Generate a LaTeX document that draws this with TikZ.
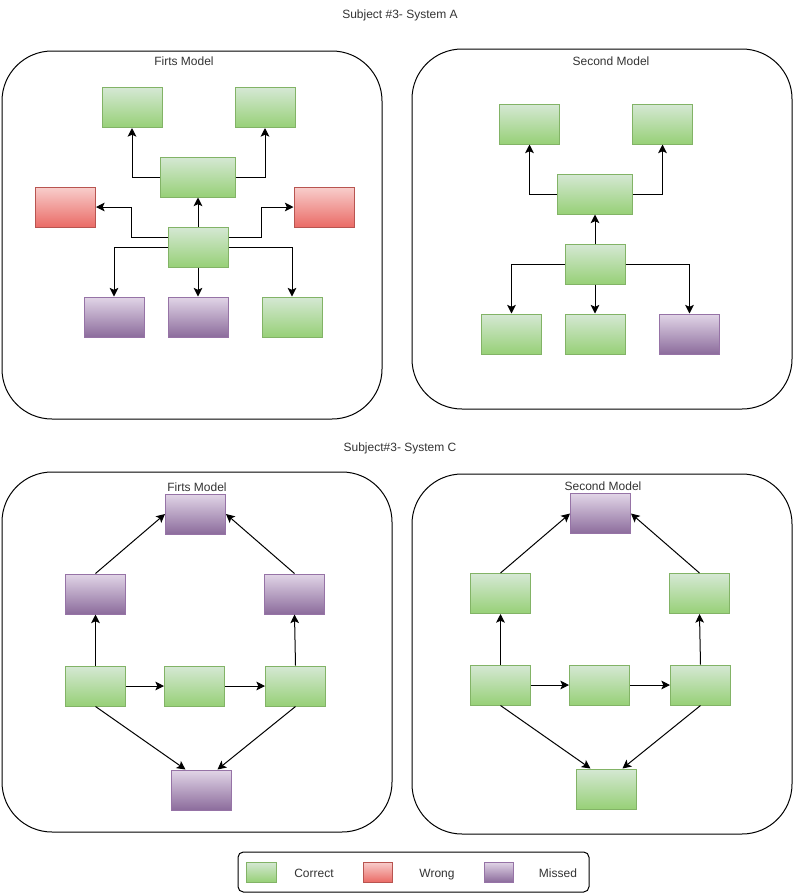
\documentclass[tikz,border=0pt]{standalone}
\usepackage{fontspec}
\setmainfont{Liberation Sans}
\usetikzlibrary{arrows.meta}
\definecolor{gtop}{HTML}{D5E8D4}
\definecolor{gbot}{HTML}{97D077}
\definecolor{gline}{HTML}{82B366}
\definecolor{rtop}{HTML}{F8CECC}
\definecolor{rbot}{HTML}{EA6B66}
\definecolor{rline}{HTML}{B85450}
\definecolor{ptop}{HTML}{E1D5E7}
\definecolor{pbot}{HTML}{8C6C9C}
\definecolor{pline}{HTML}{9673A6}
\definecolor{txtgray}{HTML}{333333}

\begin{document}
\begin{tikzpicture}[x=0.75pt, y=-0.75pt,
		boxnode/.style={line width=0.75pt, minimum width=45pt, minimum height=30pt, inner sep=0pt},
		greennode/.style={boxnode, draw=gline, top color=gtop, bottom color=gbot},
		rednode/.style={boxnode, draw=rline, top color=rtop, bottom color=rbot},
		purplenode/.style={boxnode, draw=pline, top color=ptop, bottom color=pbot},
		widenode/.style={minimum width=56.25pt},
		swatch/.style={minimum width=22pt, minimum height=15pt},
		frame/.style={draw, line width=0.75pt, rounded corners=37.5pt},
		txt/.style={text=txtgray, font=\fontsize{9pt}{11pt}\selectfont, inner sep=0pt, anchor=base},
		conn/.style={-{Stealth[length=6.5pt, width=6.5pt, inset=1.5pt]}, line width=0.75pt}
	]
	\useasboundingbox (0,0) rectangle (793,894);

	\node[txt] (titleA) at (400,18) {Subject \#3- System A};
	\node[txt] (titleC) at (400,451) {Subject\#3- System C};

	\draw[frame] (2,51) rectangle (382,419);
	\node[txt] (nameA1) at (184,65) {Firts Model};

	\node[greennode] (a1top1) at (132,107.5) {};
	\node[greennode] (a1top2) at (265,107.5) {};
	\node[greennode, widenode] (a1mid) at (198,177) {};
	\node[rednode] (a1redl) at (65.5,207) {};
	\node[rednode] (a1redr) at (324,207) {};
	\node[greennode] (a1ctr) at (198,247) {};
	\node[purplenode] (a1bot1) at (114,317) {};
	\node[purplenode] (a1bot2) at (198,317) {};
	\node[greennode] (a1bot3) at (292,317) {};

	\draw[conn] (a1mid.west) -| (a1top1.south);
	\draw[conn] (a1mid.east) -| (a1top2.south);
	\draw[conn] (a1ctr.north) -- (a1mid.south);
	\draw[conn] ([yshift=7.5pt]a1ctr.west) -- ++(-36,0) |- (a1redl.east);
	\draw[conn] ([yshift=7.5pt]a1ctr.east) -- ++(33,0) |- (a1redr.west);
	\draw[conn] (a1ctr.west) -| (a1bot1.north);
	\draw[conn] (a1ctr.south) -- (a1bot2.north);
	\draw[conn] (a1ctr.east) -| (a1bot3.north);

	\draw[frame] (412,49) rectangle (792,409);
	\node[txt] (nameA2) at (611,65) {Second Model};

	\node[greennode] (a2top1) at (529.5,124) {};
	\node[greennode] (a2top2) at (662.5,124) {};
	\node[greennode, widenode] (a2mid) at (595,194) {};
	\node[greennode] (a2ctr) at (595,264) {};
	\node[greennode] (a2bot1) at (511.5,334) {};
	\node[greennode] (a2bot2) at (595,334) {};
	\node[purplenode] (a2bot3) at (689.5,334) {};

	\draw[conn] (a2mid.west) -| (a2top1.south);
	\draw[conn] (a2mid.east) -| (a2top2.south);
	\draw[conn] (a2ctr.north) -- (a2mid.south);
	\draw[conn] (a2ctr.west) -| (a2bot1.north);
	\draw[conn] (a2ctr.south) -- (a2bot2.north);
	\draw[conn] (a2ctr.east) -| (a2bot3.north);

	\draw[frame] (2,472) rectangle (392,832);
	\node[txt] (nameC1) at (197,491) {Firts Model};

	\node[purplenode] (c1top) at (195.5,514) {};
	\node[purplenode] (c1upl) at (95.5,594) {};
	\node[purplenode] (c1upr) at (294.5,594) {};
	\node[greennode] (c1lowl) at (95.5,686) {};
	\node[greennode] (c1lowm) at (194.5,686) {};
	\node[greennode] (c1lowr) at (295.5,686) {};
	\node[purplenode] (c1bot) at (201.5,790) {};

	\draw[conn] (c1upl.north) -- (c1top.west);
	\draw[conn] (c1upr.north) -- (c1top.east);
	\draw[conn] (c1lowl.north) -- (c1upl.south);
	\draw[conn] (c1lowr.north) -- (c1upr.south);
	\draw[conn] (c1lowl.east) -- (c1lowm.west);
	\draw[conn] (c1lowm.east) -- (c1lowr.west);
	\draw[conn] (c1lowl.south) -- ([xshift=-12pt]c1bot.north);
	\draw[conn] (c1lowr.south) -- ([xshift=12pt]c1bot.north);

	\draw[frame] (412,474) rectangle (792,834);
	\node[txt] (nameC2) at (603,490) {Second Model};

	\node[purplenode] (c2top) at (600.5,513.5) {};
	\node[greennode] (c2upl) at (500.5,593.5) {};
	\node[greennode] (c2upr) at (699.5,593.5) {};
	\node[greennode] (c2lowl) at (500.5,685) {};
	\node[greennode] (c2lowm) at (599.5,685) {};
	\node[greennode] (c2lowr) at (700.5,685) {};
	\node[greennode] (c2bot) at (606.5,789) {};

	\draw[conn] (c2upl.north) -- (c2top.west);
	\draw[conn] (c2upr.north) -- (c2top.east);
	\draw[conn] (c2lowl.north) -- (c2upl.south);
	\draw[conn] (c2lowr.north) -- (c2upr.south);
	\draw[conn] (c2lowl.east) -- (c2lowm.west);
	\draw[conn] (c2lowm.east) -- (c2lowr.west);
	\draw[conn] (c2lowl.south) -- ([xshift=-12pt]c2bot.north);
	\draw[conn] (c2lowr.south) -- ([xshift=12pt]c2bot.north);

	\draw[line width=0.75pt, rounded corners=4pt] (238,852) rectangle (589,892);
	\node[greennode, swatch] (keyok) at (261.5,872) {};
	\node[txt] (keyoktxt) at (314,877) {Correct};
	\node[rednode, swatch] (keywrong) at (378,872) {};
	\node[txt] (keywrongtxt) at (437,877) {Wrong};
	\node[purplenode, swatch] (keymiss) at (499,872) {};
	\node[txt] (keymisstxt) at (558,877) {Missed};

\end{tikzpicture}
\end{document}
